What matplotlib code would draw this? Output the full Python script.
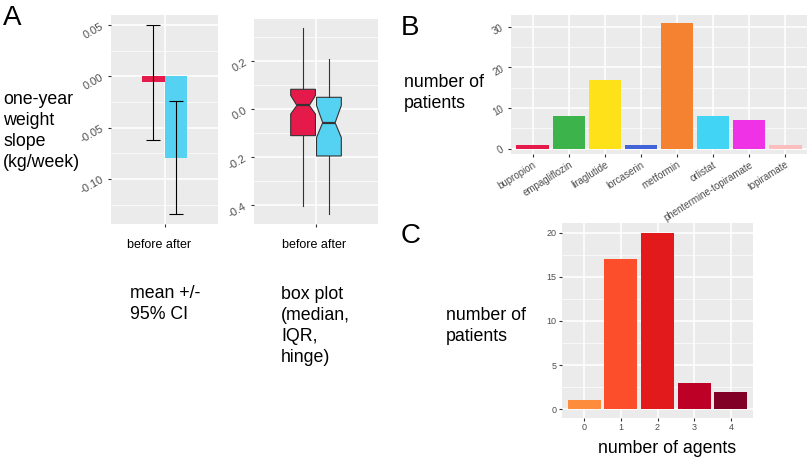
import matplotlib
matplotlib.use("Agg")
import matplotlib.pyplot as plt
import numpy as np

plt.rcParams['font.family'] = ['Liberation Sans', 'DejaVu Sans']
plt.rcParams['axes.unicode_minus'] = False

# panel A, left: mean +/- 95% CI
period = ['before', 'after']
mean_slope = [-0.0056, -0.0795]
ci_low = [-0.0618, -0.1338]
ci_high = [0.0500, -0.0244]

# panel A, right: notched box plots
box_q1 = [-0.110, -0.195]
box_med = [0.016, -0.056]
box_q3 = [0.0835, 0.050]
box_whislo = [-0.403, -0.439]
box_whishi = [0.338, 0.212]
box_cilo = [-0.020, -0.118]
box_cihi = [0.058, 0.016]

# panel B
drugs = ['bupropion', 'empagliflozin', 'liraglutide', 'lorcaserin', 'metformin',
         'orlistat', 'phentermine-topiramate', 'topiramate']
drug_counts = [1, 8, 17, 1, 31, 8, 7, 1]

# panel C
n_agents = ['0', '1', '2', '3', '4']
agent_counts = [1, 17, 20, 3, 2]

period_colors = ['#e6194B', '#55d2f2']
drug_colors = ['#e6194B', '#3cb44b', '#ffe119', '#4363d8', '#f58231',
               '#42d4f4', '#f032e6', '#fabebe']
agent_colors = ['#fd8d3c', '#fc4e2a', '#e31a1c', '#bd0026', '#800026']

W, H = 810, 461
fig = plt.figure(figsize=(W / 100, H / 100), dpi=100)


def add_ax(l, t, r, b):
    return fig.add_axes([l / W, 1 - b / H, (r - l) / W, (b - t) / H])


def gg_style(ax, fs, rot=0):
    ax.set_facecolor('#EBEBEB')
    for s in ax.spines.values():
        s.set_visible(False)
    ax.grid(True, which='major', color='white', lw=1.1)
    ax.grid(True, which='minor', axis='y', color='white', lw=0.5)
    ax.set_axisbelow(True)
    ax.tick_params(which='major', color='#333333', length=2.5, width=0.8,
                   labelcolor='#4D4D4D', labelsize=fs, pad=1.5)
    ax.tick_params(which='minor', length=0)
    for lab in ax.get_yticklabels():
        lab.set_rotation(rot)


# ---- A left
ax1 = add_ax(111, 15, 218, 224)
xs = np.array([-0.125, 0.125])
ax1.bar(xs, mean_slope, width=0.25, color=period_colors)
yerr = [np.array(mean_slope) - np.array(ci_low), np.array(ci_high) - np.array(mean_slope)]
ax1.errorbar(xs, mean_slope, yerr=yerr, fmt='none', ecolor='black',
             elinewidth=0.8, capsize=5, capthick=0.8)
ax1.set_xlim(-0.6, 0.6)
ax1.set_ylim(-0.1439, 0.0597)
ax1.set_yticks([-0.10, -0.05, 0.00, 0.05])
ax1.set_yticklabels(['-0.10', '-0.05', '0.00', '0.05'])
ax1.set_yticks([-0.125, -0.075, -0.025, 0.025], minor=True)
ax1.set_xticks([0])
ax1.set_xticklabels([''])
gg_style(ax1, 8, rot=30)

# ---- A right
ax2 = add_ax(254, 19, 378, 224)
stats = []
for i in range(2):
    stats.append(dict(med=box_med[i], q1=box_q1[i], q3=box_q3[i],
                      whislo=box_whislo[i], whishi=box_whishi[i],
                      cilo=box_cilo[i], cihi=box_cihi[i], fliers=[]))
bp = ax2.bxp(stats, positions=xs, widths=0.24, shownotches=True,
             patch_artist=True, showcaps=False,
             boxprops=dict(edgecolor='#333333', linewidth=0.8),
             whiskerprops=dict(color='#333333', linewidth=0.8),
             medianprops=dict(color='#333333', linewidth=1.6))
for patch, c in zip(bp['boxes'], period_colors):
    patch.set_facecolor(c)
ax2.set_xlim(-0.6, 0.6)
ax2.set_ylim(-0.479, 0.377)
ax2.set_yticks([-0.4, -0.2, 0.0, 0.2])
ax2.set_yticklabels(['-0.4', '-0.2', '0.0', '0.2'])
ax2.set_yticks([-0.3, -0.1, 0.1, 0.3], minor=True)
ax2.set_xticks([0])
ax2.set_xticklabels([''])
gg_style(ax2, 8, rot=30)

# ---- B
ax3 = add_ax(511, 15, 807, 154)
bx = np.arange(1, len(drugs) + 1)
ax3.bar(bx, drug_counts, width=0.9, color=drug_colors)
ax3.set_xlim(0.4, len(drugs) + 0.6)
ax3.set_ylim(-1.3, 32.9)
ax3.set_yticks([0, 10, 20, 30])
ax3.set_yticks([5, 15, 25], minor=True)
ax3.set_xticks(bx)
ax3.set_xticklabels(drugs, rotation=32, ha='right', rotation_mode='anchor')
gg_style(ax3, 7, rot=30)

# ---- C
ax4 = add_ax(562, 223, 753, 418)
cx = np.arange(1, len(n_agents) + 1)
ax4.bar(cx, agent_counts, width=0.9, color=agent_colors)
ax4.set_xlim(0.4, len(n_agents) + 0.6)
ax4.set_ylim(-1.0, 21.1)
ax4.set_yticks([0, 5, 10, 15, 20])
ax4.set_yticks([2.5, 7.5, 12.5, 17.5], minor=True)
ax4.set_xticks(cx)
ax4.set_xticklabels(n_agents)
gg_style(ax4, 6.5)
ax4.tick_params(axis='x', pad=1)

# ---- free text (y = baseline of the last line, in pixels)
big = 12.8


def ftext(x, y, s, **kw):
    fig.text(x / W, 1 - y / H, s, fontsize=kw.pop('fontsize', big),
             va=kw.pop('va', 'baseline'), linespacing=1.3, **kw)


ftext(3, 25, 'A', fontsize=20)
ftext(401, 35, 'B', fontsize=20)
ftext(401, 243, 'C', fontsize=20)
ftext(159, 248, 'before after', fontsize=9, ha='center')
ftext(314, 248, 'before after', fontsize=9, ha='center')
ftext(3, 167, 'one-year\nweight\nslope\n(kg/week)')
ftext(130, 319, 'mean +/-\n95% CI')
ftext(281, 362, 'box plot\n(median,\nIQR,\nhinge)')
ftext(404, 108, 'number of\npatients')
ftext(446, 341, 'number of\npatients')
ftext(667, 453, 'number of agents', ha='center')

fig.savefig('out.png', dpi=100)
